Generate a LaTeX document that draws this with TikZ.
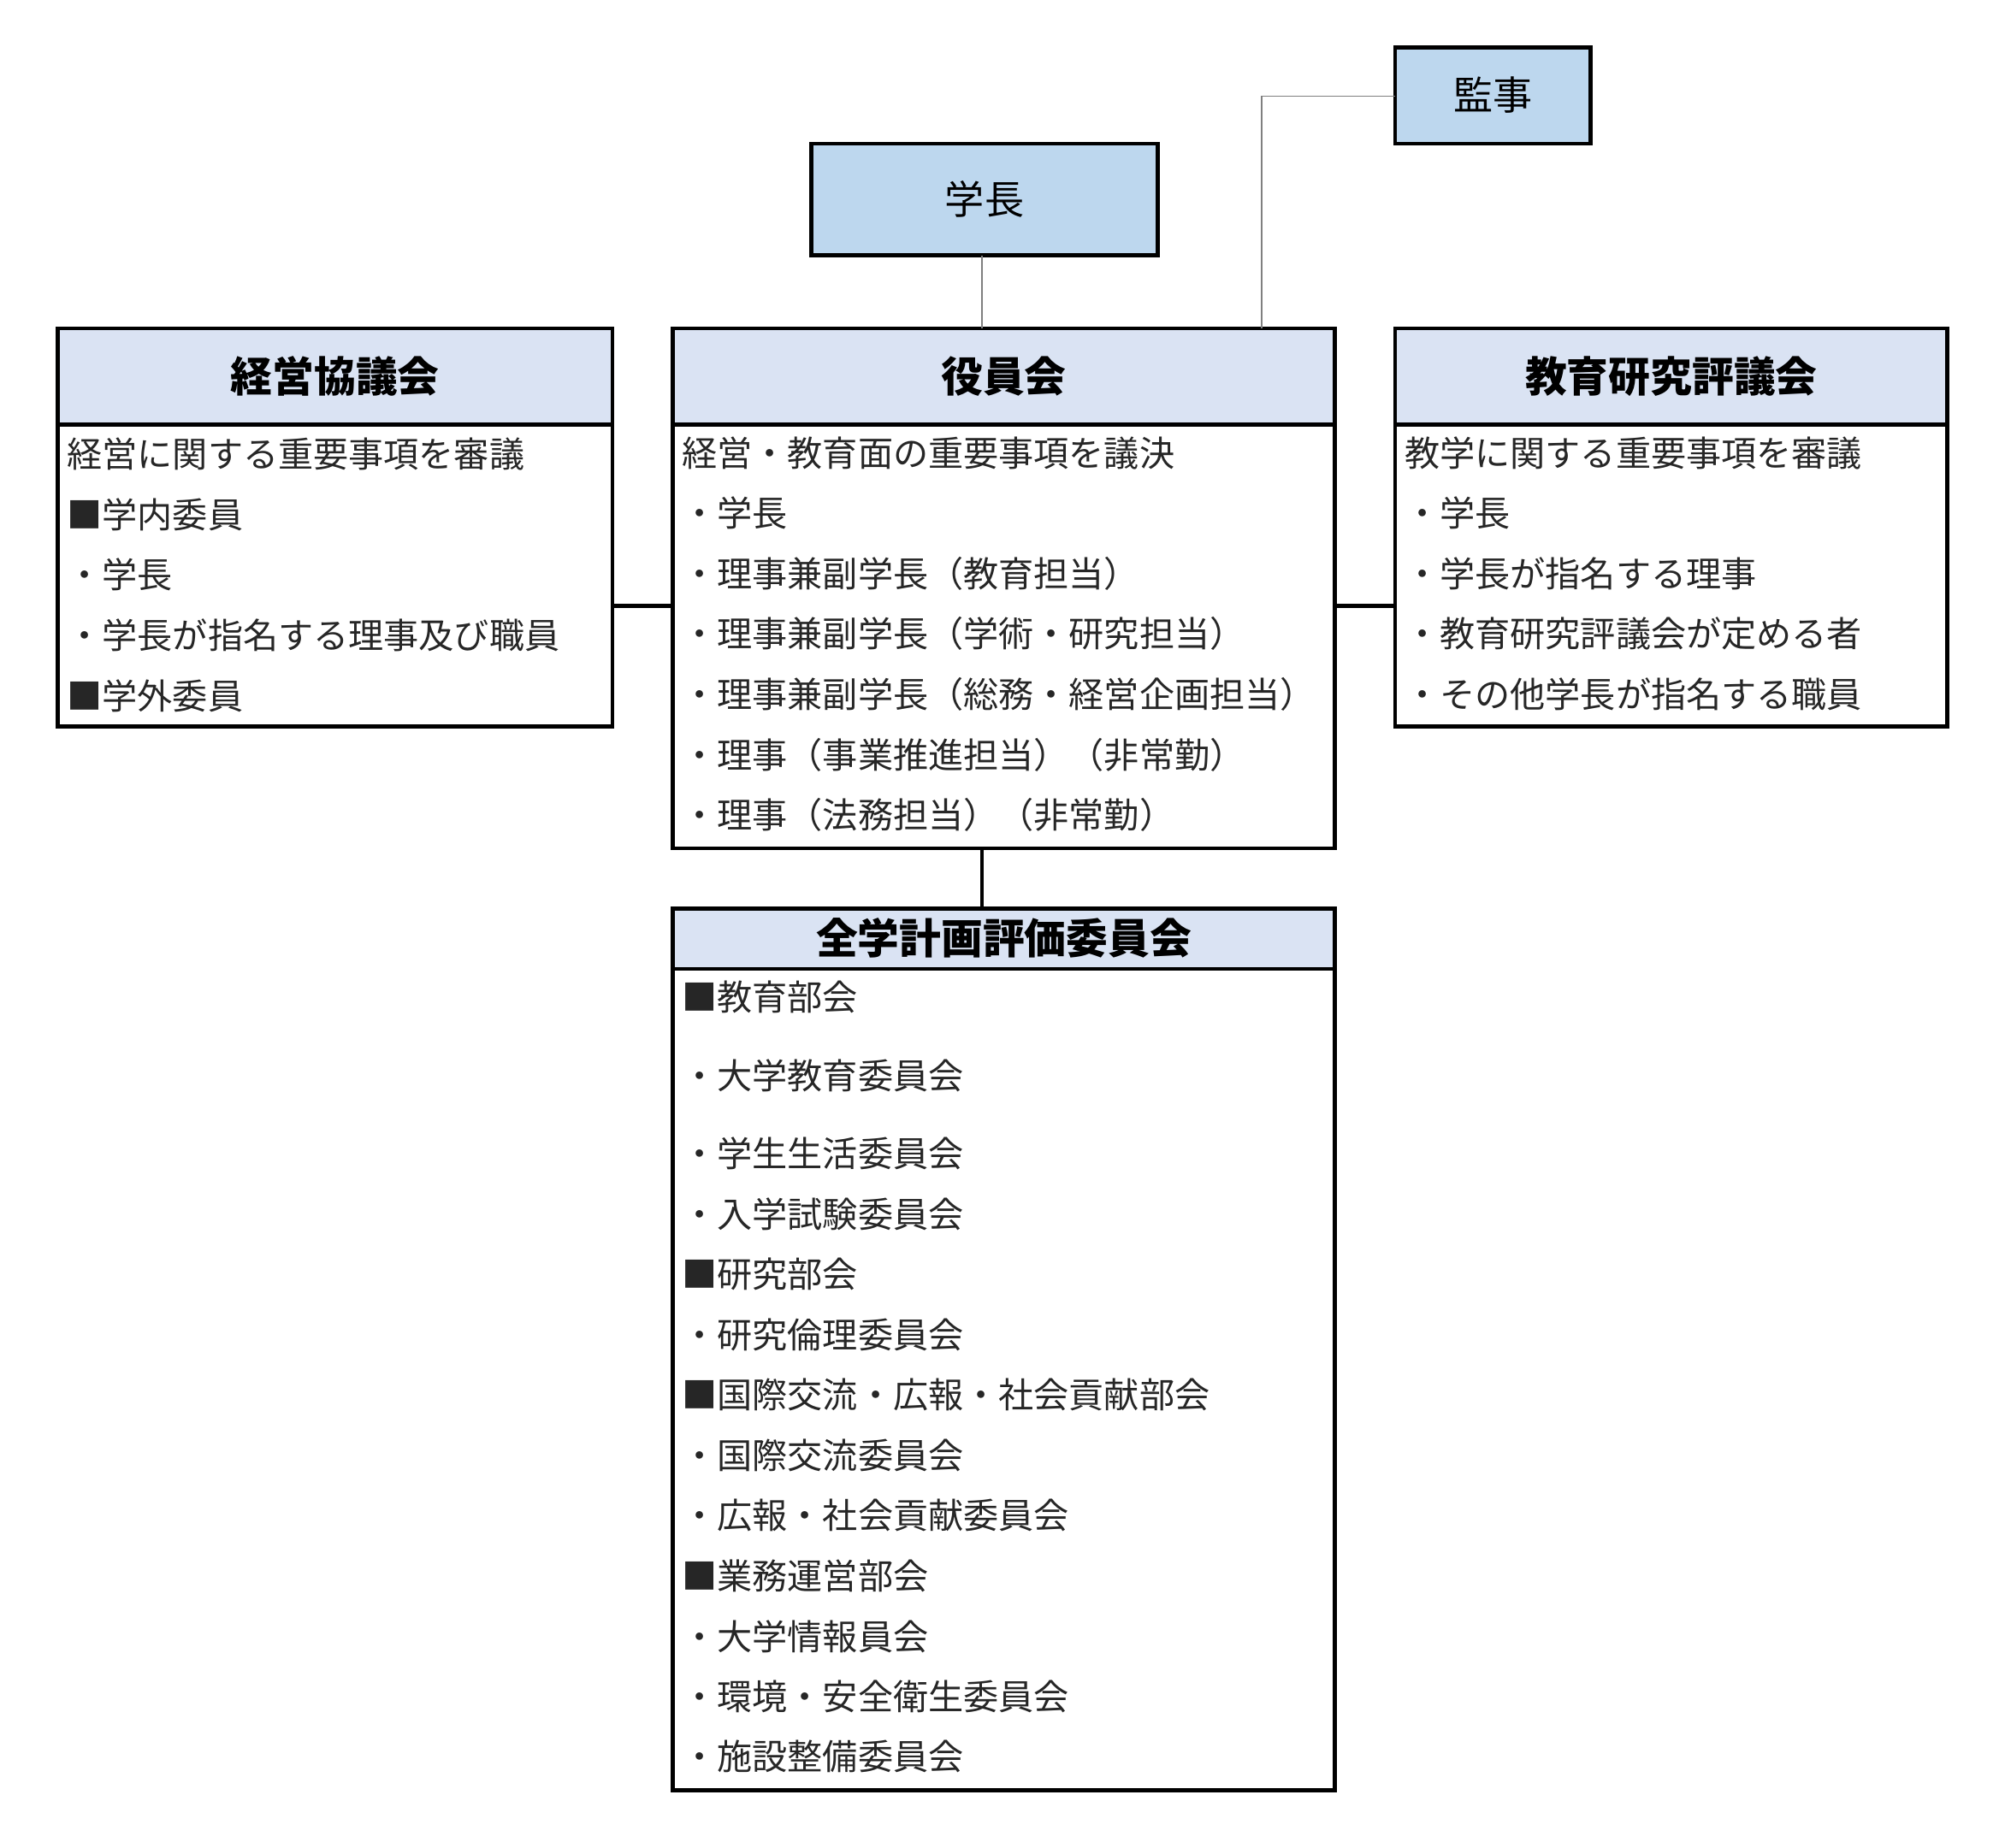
\documentclass[tikz,border=0pt]{standalone}
\usepackage{fontspec}
\setmainfont{Noto Sans CJK JP}
\definecolor{hd}{HTML}{DAE3F3}
\definecolor{bl}{HTML}{BDD7EE}
\definecolor{tx}{HTML}{262626}
\begin{document}
\begin{tikzpicture}[x=0.02cm,y=-0.02cm,
  box/.style={draw=black,line width=1.7pt},
  t/.style={anchor=west,inner sep=0pt,font=\fontsize{15.6}{16}\selectfont,text=tx},
  hdt/.style={inner sep=0pt,font=\fontsize{18.5}{19}\selectfont\bfseries},
  thin/.style={draw=gray,line width=0.5pt},
  thick/.style={draw=black,line width=1.7pt}]
\useasboundingbox (0,0) rectangle (1562,1440);
% top boxes
\filldraw[box,fill=bl] (1087,37) rectangle (1239,112);
\node[inner sep=0pt,font=\fontsize{17.5}{18}\selectfont] (kanji) at (1163,74) {監事};
\filldraw[box,fill=bl] (632,112) rectangle (902,199);
\node[inner sep=0pt,font=\fontsize{17.5}{18}\selectfont] (gakucho) at (767,155) {学長};
% main boxes
\filldraw[box,fill=hd] (45,256) rectangle (477,331);
\draw[box] (45,256) rectangle (477,566);
\node[hdt] (keiei) at (261,293) {経営協議会};
\filldraw[box,fill=hd] (524,256) rectangle (1040,331);
\draw[box] (524,256) rectangle (1040,661);
\node[hdt] (yakuin) at (782,293) {役員会};
\filldraw[box,fill=hd] (1087,256) rectangle (1517,331);
\draw[box] (1087,256) rectangle (1517,566);
\node[hdt] (kyoiku) at (1302,293) {教育研究評議会};
\filldraw[box,fill=hd] (524,708) rectangle (1040,755);
\draw[box] (524,708) rectangle (1040,1395);
\node[hdt] (zengaku) at (782,731) {全学計画評価委員会};
% connectors
\coordinate (gb) at (765,199); \coordinate (yt) at (765,256);
\draw[thin] (gb) -- (yt);
\coordinate (kl) at (1087,75); \coordinate (kc) at (983,75); \coordinate (yt2) at (983,256);
\draw[thin] (kl) -- (kc) -- (yt2);
\coordinate (a1) at (477,472); \coordinate (a2) at (524,472);
\draw[thick] (a1) -- (a2);
\coordinate (b1) at (1040,472); \coordinate (b2) at (1087,472);
\draw[thick] (b1) -- (b2);
\coordinate (c1) at (765,661); \coordinate (c2) at (765,708);
\draw[thick] (c1) -- (c2);
% texts left
\node[t] (l1) at (52,354) {経営に関する重要事項を審議};
\node[t] (l2) at (52,401) {■学内委員};
\node[t] (l3) at (52,448) {・学長};
\node[t] (l4) at (52,495) {・学長が指名する理事及び職員};
\node[t] (l5) at (52,542) {■学外委員};
% middle
\node[t] (m1) at (531,353) {経営・教育面の重要事項を議決};
\node[t] (m2) at (531,400) {・学長};
\node[t] (m3) at (531,447) {・理事兼副学長（教育担当）};
\node[t] (m4) at (531,494) {・理事兼副学長（学術・研究担当）};
\node[t] (m5) at (531,541) {・理事兼副学長（総務・経営企画担当）};
\node[t] (m6) at (531,588) {・理事（事業推進担当）（非常勤）};
\node[t] (m7) at (531,635) {・理事（法務担当）（非常勤）};
% right
\node[t] (r1) at (1094,353) {教学に関する重要事項を審議};
\node[t] (r2) at (1094,400) {・学長};
\node[t] (r3) at (1094,447) {・学長が指名する理事};
\node[t] (r4) at (1094,494) {・教育研究評議会が定める者};
\node[t] (r5) at (1094,541) {・その他学長が指名する職員};
% bottom
\node[t] (z1) at (531,777) {■教育部会};
\node[t] (z2) at (531,838) {・大学教育委員会};
\node[t] (z3) at (531,899) {・学生生活委員会};
\node[t] (z4) at (531,946) {・入学試験委員会};
\node[t] (z5) at (531,993) {■研究部会};
\node[t] (z6) at (531,1040) {・研究倫理委員会};
\node[t] (z7) at (531,1087) {■国際交流・広報・社会貢献部会};
\node[t] (z8) at (531,1134) {・国際交流委員会};
\node[t] (z9) at (531,1181) {・広報・社会貢献委員会};
\node[t] (z10) at (531,1228) {■業務運営部会};
\node[t] (z11) at (531,1275) {・大学情報員会};
\node[t] (z12) at (531,1322) {・環境・安全衛生委員会};
\node[t] (z13) at (531,1369) {・施設整備委員会};
\end{tikzpicture}
\end{document}
